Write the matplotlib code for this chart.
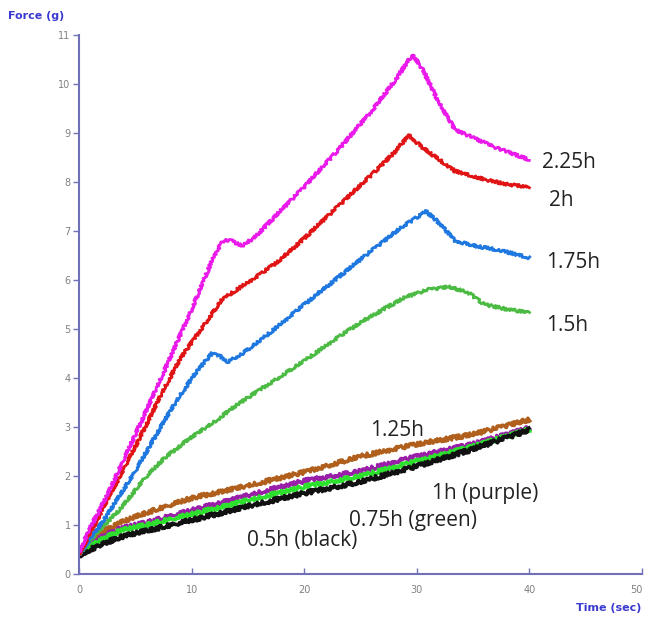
import matplotlib
matplotlib.use("Agg")
from matplotlib import pyplot as plt


# force traces read from the texture analyser, one per baking time
t_225 = [0, 1, 2.5, 5, 7, 10, 12, 12.8, 13.5, 14.5, 15.5, 17, 20, 23, 26, 28, 29.6, 30.5, 32, 33.4, 35, 37, 40]
f_225 = [0.45, 0.95, 1.6, 2.85, 3.85, 5.4, 6.5, 6.8, 6.8, 6.7, 6.85, 7.2, 7.9, 8.65, 9.45, 10.05, 10.6, 10.3, 9.6, 9.06, 8.9, 8.7, 8.45]

t_200 = [0, 2.5, 5, 7.5, 9, 11, 12.7, 14, 16, 17.8, 20, 23, 26, 28, 29.3, 30.5, 32, 33.4, 36, 38, 40]
f_200 = [0.4, 1.5, 2.6, 3.75, 4.4, 5.05, 5.6, 5.8, 6.1, 6.4, 6.85, 7.5, 8.15, 8.6, 8.95, 8.7, 8.45, 8.22, 8.05, 7.95, 7.9]

t_175 = [0, 2.5, 5, 7.5, 9, 10.5, 11.8, 12.5, 13.2, 14.5, 16, 17.8, 20, 23, 26, 28.5, 30.8, 31.8, 33.4, 35, 37.5, 40]
f_175 = [0.4, 1.2, 2.1, 3.1, 3.65, 4.15, 4.5, 4.45, 4.33, 4.5, 4.75, 5.08, 5.5, 6.05, 6.6, 7.05, 7.4, 7.2, 6.8, 6.7, 6.6, 6.45]

t_150 = [0, 2, 3.6, 5.7, 7.5, 9.6, 12, 14, 16, 18, 20, 22.5, 24.9, 27, 29, 31, 32.8, 34.5, 36, 38, 40]
f_150 = [0.4, 0.95, 1.3, 1.92, 2.35, 2.73, 3.1, 3.45, 3.75, 4.05, 4.35, 4.75, 5.12, 5.4, 5.65, 5.8, 5.86, 5.75, 5.5, 5.4, 5.33]

t_low = [0, 1, 2, 3.6, 6, 10, 15, 20, 25, 30, 35, 40]
f_125 = [0.45, 0.7, 0.85, 1.04, 1.25, 1.55, 1.8, 2.08, 2.4, 2.65, 2.85, 3.15]
f_100 = [0.42, 0.62, 0.75, 0.92, 1.05, 1.3, 1.6, 1.9, 2.1, 2.4, 2.65, 2.98]
f_075 = [0.4, 0.58, 0.7, 0.88, 1.0, 1.22, 1.5, 1.78, 2.0, 2.3, 2.6, 2.95]
f_050 = [0.38, 0.5, 0.6, 0.75, 0.88, 1.1, 1.38, 1.65, 1.88, 2.2, 2.55, 2.94]

x_ticks = [0, 10, 20, 30, 40, 50]
y_ticks = list(range(0, 12))

axis_blue = "#6f70b8"
label_blue = "#3a3ad0"

fig = plt.figure(figsize=(6.45, 6.19), dpi=100)
ax = fig.add_axes([0.1225, 0.0727, 0.873, 0.871])


def trace(t, f, color, lw, jitter):
    line, = ax.plot(t, f, color=color, lw=lw)
    # noisy look of the raw sensor signal
    line.set_sketch_params(jitter, 1.2, 3)


trace(t_low, f_125, "#b0601c", 2.4, 2.0)
trace(t_low, f_100, "#9a1fa8", 2.4, 2.0)
trace(t_low, f_075, "#2ee02e", 2.4, 2.0)
trace(t_low, f_050, "#111111", 2.6, 2.0)
trace(t_150, f_150, "#4cbb44", 2.0, 1.4)
trace(t_175, f_175, "#1f78e0", 2.0, 1.4)
trace(t_200, f_200, "#e01414", 2.0, 1.4)
trace(t_225, f_225, "#ea1aea", 2.0, 1.4)

# series labels
lab = dict(fontsize=15, family="Open Sans", color="#222222", va="center", ha="left")
ax.text(41.1, 8.4, "2.25h", **lab)
ax.text(41.7, 7.63, "2h", **lab)
ax.text(41.5, 6.35, "1.75h", **lab)
ax.text(41.5, 5.08, "1.5h", **lab)
ax.text(25.8, 2.92, "1.25h", **lab)
ax.text(31.3, 1.65, "1h (purple)", **lab)
ax.text(24.0, 1.1, "0.75h (green)", **lab)
ax.text(14.9, 0.69, "0.5h (black)", **lab)

ax.set_xlim(0, 50)
ax.set_ylim(0, 11)
ax.set_xticks(x_ticks)
ax.set_yticks(y_ticks)
for s in ["top", "right"]:
    ax.spines[s].set_visible(False)
for s in ["left", "bottom"]:
    ax.spines[s].set_color(axis_blue)
    ax.spines[s].set_linewidth(1.5)
ax.tick_params(axis="x", direction="in", length=4, width=1, color=axis_blue,
               labelsize=7, labelcolor="#808080", pad=8)
ax.tick_params(axis="y", direction="out", length=4, width=1, color=axis_blue,
               labelsize=7, labelcolor="#808080", pad=2)
ax.get_xticklabels()[-1].set_horizontalalignment("right")

fig.text(0.012, 0.974, "Force (g)", fontsize=8, fontweight="bold", color=label_blue, va="center")
fig.text(0.995, 0.018, "Time (sec)", fontsize=8, fontweight="bold", color=label_blue, ha="right", va="center")

fig.savefig("out.png", dpi=100, facecolor="white")
